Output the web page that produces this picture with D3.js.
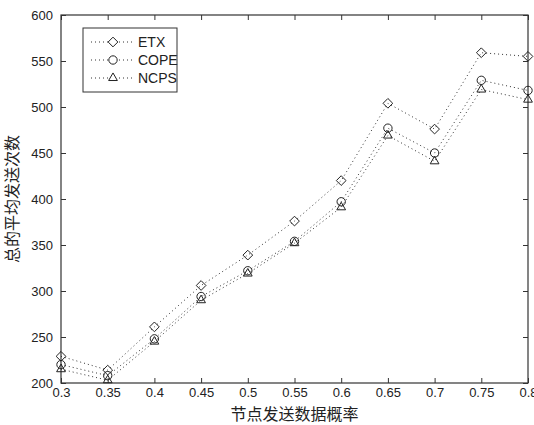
<!DOCTYPE html>
<html>
<head>
<meta charset="utf-8">
<script src="https://cdn.jsdelivr.net/npm/d3@7"></script>
<style>
	body{margin:0;background:#fff;}
	svg text{font-family:"Liberation Sans",Arial,sans-serif;fill:#222;}
</style>
</head>
<body>
<div id="chart"></div>
<script>
var probs = [0.3,0.35,0.4,0.45,0.5,0.55,0.6,0.65,0.7,0.75,0.8];
var etx  = [229,214,261,306,339,376,420,504,476,559,555];
var cope = [220,208,248,294,322,354,397,477,450,529,518];
var ncps = [215,203,245,290,319,352,391,469,441,519,508];
var xTicks = [0.3,0.35,0.4,0.45,0.5,0.55,0.6,0.65,0.7,0.75,0.8];
var yTicks = [200,250,300,350,400,450,500,550,600];
var seriesNames = ["ETX","COPE","NCPS"];

var W = 534, H = 425;
var margin = {top:15,left:61,right:6,bottom:42};
var pw = W - margin.left - margin.right, ph = H - margin.top - margin.bottom;

var svg = d3.select("#chart").append("svg")
	.attr("width",W).attr("height",H);
var g = svg.append("g").attr("transform","translate("+margin.left+","+margin.top+")");

var x = d3.scaleLinear().domain([0.3,0.8]).range([0,pw]);
var y = d3.scaleLinear().domain([200,600]).range([ph,0]);

// box
g.append("rect").attr("width",pw).attr("height",ph)
	.attr("fill","none").attr("stroke","#333").attr("stroke-width",1.2);

// ticks (inward, matlab style)
var fmt = function(d){ return String(+d.toFixed(2)); };
g.append("g").attr("transform","translate(0,"+ph+")")
	.call(d3.axisBottom(x).tickValues(xTicks).tickSizeInner(-5).tickSizeOuter(0).tickPadding(5).tickFormat(fmt));
g.append("g")
	.call(d3.axisTop(x).tickValues(xTicks).tickSizeInner(-5).tickSizeOuter(0).tickFormat(""));
g.append("g")
	.call(d3.axisLeft(y).tickValues(yTicks).tickSizeInner(-5).tickSizeOuter(0).tickPadding(8));
g.append("g").attr("transform","translate("+pw+",0)")
	.call(d3.axisRight(y).tickValues(yTicks).tickSizeInner(-5).tickSizeOuter(0).tickFormat(""));
g.selectAll(".domain").remove();
g.selectAll(".tick line").attr("stroke","#333");
g.selectAll(".tick text").style("font-size","13px").attr("fill","#222");

// marker shapes
var shapes = {
	ETX: d3.symbol().type(d3.symbolDiamond2).size(60),
	COPE: d3.symbol().type(d3.symbolCircle).size(55),
	NCPS: d3.symbol().type(d3.symbolTriangle2).size(55)
};
var allData = {ETX:etx, COPE:cope, NCPS:ncps};

var line = d3.line().x(function(d,i){return x(probs[i]);}).y(function(d){return y(d);});

seriesNames.forEach(function(name){
	var vals = allData[name];
	g.append("path").datum(vals).attr("d",line)
		.attr("fill","none").attr("stroke","#333").attr("stroke-width",1)
		.attr("stroke-dasharray","1,3");
	g.selectAll(".m-"+name).data(vals).enter().append("path")
		.attr("class","m-"+name)
		.attr("transform",function(d,i){return "translate("+x(probs[i])+","+y(d)+")";})
		.attr("d",shapes[name])
		.attr("fill","none").attr("stroke","#222").attr("stroke-width",1);
});

// legend
var lg = g.append("g").attr("transform","translate(22,13)");
lg.append("rect").attr("width",94).attr("height",64)
	.attr("fill","#fff").attr("stroke","#333").attr("stroke-width",1);
seriesNames.forEach(function(name,i){
	var row = lg.append("g").attr("transform","translate(0,"+(14+i*18)+")");
	row.append("line").attr("x1",8).attr("x2",50)
		.attr("stroke","#333").attr("stroke-dasharray","1,3");
	row.append("path").attr("transform","translate(30,0)").attr("d",shapes[name])
		.attr("fill","#fff").attr("stroke","#222");
	row.append("text").attr("x",55).attr("y",5).style("font-size","14px").text(name);
});

// axis titles
svg.append("text").attr("x",margin.left+pw/2).attr("y",420)
	.attr("text-anchor","middle")
	.style("font-family","'Noto Sans CJK SC',sans-serif").style("font-size","16px")
	.text("节点发送数据概率");
svg.append("text").attr("transform","translate(18,"+(margin.top+ph/2)+") rotate(-90)")
	.attr("text-anchor","middle")
	.style("font-family","'Noto Sans CJK SC',sans-serif").style("font-size","16px")
	.text("总的平均发送次数");
</script>
</body>
</html>
